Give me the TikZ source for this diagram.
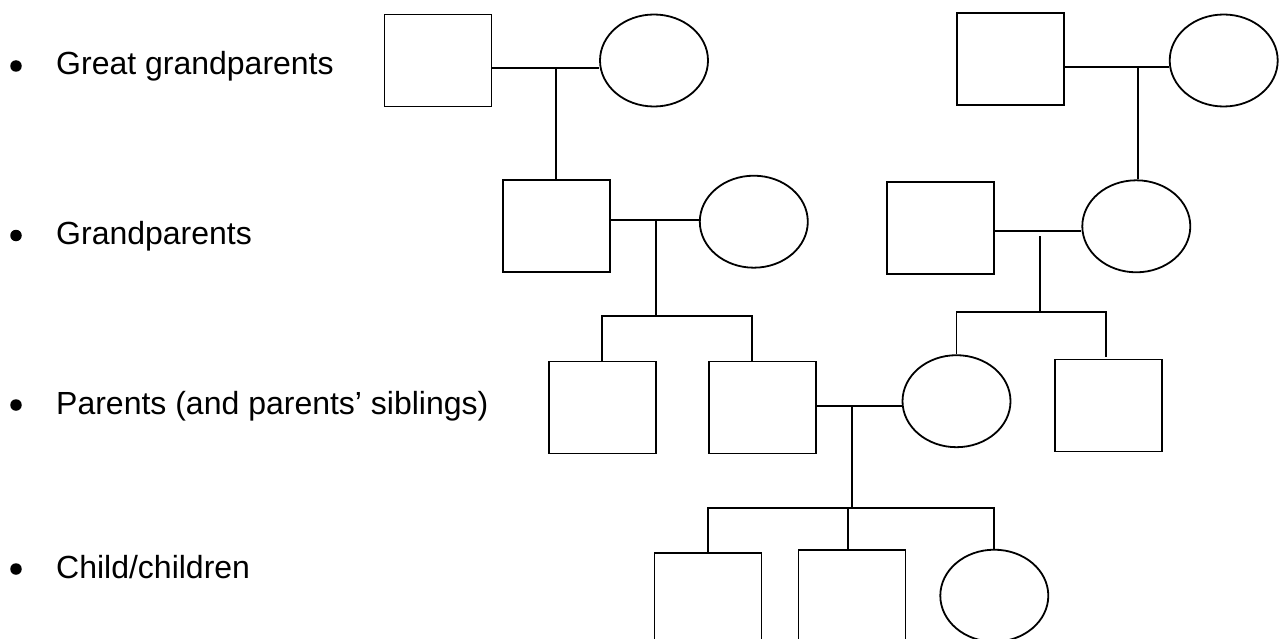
\documentclass[tikz,border=0pt]{standalone}
\usepackage{fontspec}
\setmainfont{Liberation Sans}
\usetikzlibrary{shapes.geometric}
\begin{document}
\begin{tikzpicture}[x=1pt,y=-1pt,
  male/.style={draw, line width=1.8pt, rectangle, minimum width=107pt, minimum height=92pt, inner sep=0pt},
  female/.style={draw, line width=1.8pt, ellipse, minimum width=108pt, minimum height=92pt, inner sep=0pt},
  link/.style={draw, line width=1.8pt},
  bulletdot/.style={fill, circle, minimum size=11.5pt, inner sep=0pt},
  legend/.style={anchor=base west, inner sep=0pt, font=\fontsize{32}{38}\selectfont}]
\useasboundingbox (0,0) rectangle (1279,639);
\clip (0,0) rectangle (1279,639);
\fill[white] (0,0) rectangle (1279,639);

% legend
\node[bulletdot] (b1) at (16,66) {};
\node[bulletdot] (b2) at (16,235.5) {};
\node[bulletdot] (b3) at (16,405) {};
\node[bulletdot] (b4) at (16,569) {};
\node[legend] (t1) at (56,75) {Great grandparents};
\node[legend] (t2) at (56,244.5) {Grandparents};
\node[legend] (t3) at (56,414) {Parents (and parents’ siblings)};
\node[legend] (t4) at (56,578) {Child/children};

% people
\node[male] (gg1) at (438,60.5) {};
\node[female] (gg2) at (654,60.5) {};
\node[male] (gg3) at (1010.3,58.7) {};
\node[female] (gg4) at (1223.7,60.5) {};
\node[male] (g1) at (556.2,226) {};
\node[female] (g2) at (753.8,221.7) {};
\node[male] (g3) at (940.2,228) {};
\node[female] (g4) at (1136.3,226.3) {};
\node[male] (p1) at (602.2,407.4) {};
\node[male] (p2) at (762.5,407.4) {};
\node[female] (p3) at (956.5,401.2) {};
\node[male] (p4) at (1108.3,405.5) {};
\node[male] (c1) at (708,598.7) {};
\node[male] (c2) at (852,595.7) {};
\node[female] (c3) at (994.3,595.7) {};

% junction points
\coordinate (m1) at (556,67.7);
\coordinate (m2) at (1138.3,67.3);
\coordinate (m3) at (656,219.7);
\coordinate (m4) at (1040.3,230.7);
\coordinate (m4d) at (1040.3,236);
\coordinate (m5) at (852,406);
\coordinate (s1) at (656,316);
\coordinate (s1r) at (752,316);
\coordinate (s2) at (1040.3,312.3);
\coordinate (s2r) at (1106.3,312.3);
\coordinate (p4t) at (1106.3,356.7);
\coordinate (s3) at (852,508.3);
\coordinate (s3c) at (848.3,508.3);

% great grandparents
\draw[link] (gg1.east|-m1) -- (gg2.west|-m1);
\draw[link] (m1) -- (m1|-g1.north);
\draw[link] (gg3.east|-m2) -- (gg4.west|-m2);
\draw[link] (m2) -- (m2|-g4.north);

% grandparents
\draw[link] (g1.east|-m3) -- (g2.west|-m3);
\draw[link] (m3) -- (s1);
\draw[link] (p1.north) |- (s1r) -- (s1r|-p2.north);
\draw[link] (g3.east|-m4) -- (g4.west|-m4);
\draw[link] (m4d) -- (s2);
\draw[link] (p3.north) |- (s2r) -- (p4t);

% parents
\draw[link] (p2.east|-m5) -- (p3.west|-m5);
\draw[link] (m5) -- (s3);
\draw[link] (c1.north) |- (c3.north|-s3) -- (c3.north);
\draw[link] (s3c) -- (s3c|-c2.north);
\end{tikzpicture}
\end{document}
